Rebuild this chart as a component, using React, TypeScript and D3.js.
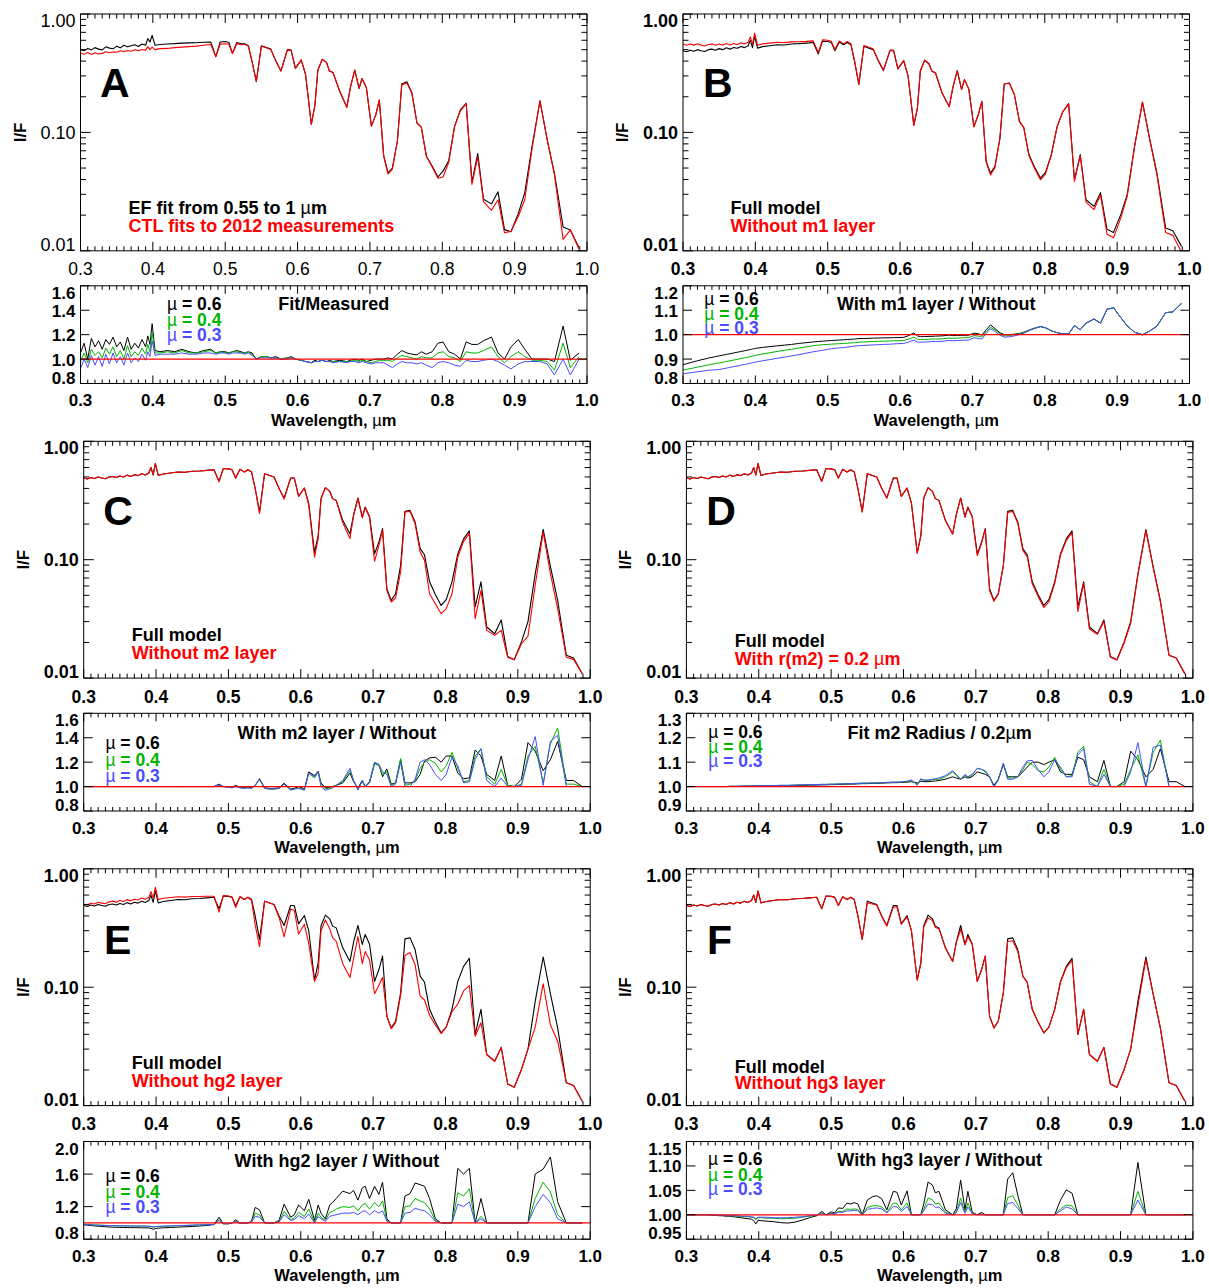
import React from 'react';
import * as d3 from 'd3';

// ---------------- DATA ----------------
const WL = [0.300,0.305,0.310,0.315,0.320,0.325,0.330,0.335,0.340,0.345,
 0.350,0.355,0.360,0.365,0.370,0.375,0.380,0.385,0.390,0.393,
 0.396,0.399,0.403,0.410,0.420,0.430,0.440,0.450,0.460,0.470,
 0.480,0.487,0.493,0.500,0.505,0.510,0.516,0.522,0.527,0.532,
 0.537,0.543,0.550,0.557,0.563,0.570,0.577,0.586,0.591,0.597,
 0.605,0.611,0.619,0.624,0.628,0.634,0.640,0.644,0.649,0.658,
 0.668,0.673,0.679,0.685,0.689,0.695,0.702,0.708,0.713,0.719,
 0.725,0.731,0.738,0.744,0.751,0.758,0.765,0.771,0.778,0.786,
 0.794,0.801,0.809,0.817,0.825,0.833,0.841,0.849,0.857,0.868,
 0.877,0.886,0.895,0.905,0.914,0.924,0.935,0.945,0.955,0.967,
 0.977,0.989];

// Full model (black curve in panels B-F)
const FULL = [0.490,0.480,0.495,0.485,0.500,0.490,0.482,0.500,0.505,0.495,
 0.510,0.500,0.518,0.505,0.522,0.513,0.532,0.520,0.540,0.600,
 0.520,0.650,0.515,0.530,0.540,0.550,0.548,0.558,0.562,0.568,
 0.575,0.460,0.590,0.585,0.575,0.490,0.580,0.550,0.575,0.550,
 0.400,0.253,0.533,0.515,0.500,0.400,0.332,0.490,0.490,0.343,
 0.403,0.300,0.115,0.160,0.330,0.406,0.378,0.328,0.317,0.215,
 0.165,0.240,0.332,0.230,0.279,0.232,0.112,0.141,0.183,0.0569,
 0.0453,0.0515,0.0894,0.256,0.261,0.208,0.124,0.110,0.065,0.0508,
 0.0411,0.046,0.065,0.112,0.150,0.175,0.0399,0.065,0.027,0.0237,
 0.031,0.0152,0.0143,0.0202,0.030,0.076,0.180,0.088,0.0453,0.0156,
 0.0148,0.0109];

// Panel A: EF fit (black) and CTL fits (red)
const A_BLACK = [0.500,0.490,0.512,0.498,0.520,0.505,0.498,0.528,0.515,0.508,
 0.535,0.518,0.545,0.528,0.540,0.550,0.532,0.558,0.545,0.620,
 0.580,0.660,0.545,0.552,0.558,0.562,0.568,0.570,0.572,0.578,
 0.580,0.436,0.580,0.585,0.575,0.465,0.575,0.560,0.560,0.540,
 0.400,0.268,0.540,0.520,0.505,0.400,0.330,0.500,0.495,0.347,
 0.410,0.310,0.117,0.170,0.335,0.414,0.390,0.330,0.320,0.225,
 0.163,0.240,0.336,0.235,0.285,0.240,0.113,0.140,0.188,0.064,
 0.0455,0.050,0.085,0.256,0.268,0.216,0.120,0.111,0.063,0.052,
 0.042,0.047,0.058,0.113,0.155,0.176,0.038,0.0664,0.0272,0.0249,
 0.0315,0.0151,0.0145,0.0206,0.031,0.076,0.185,0.0866,0.045,0.0159,
 0.0150,0.0106];
const A_RED = [0.470,0.458,0.472,0.455,0.470,0.460,0.465,0.480,0.470,0.478,
 0.475,0.490,0.480,0.492,0.485,0.500,0.490,0.502,0.495,0.530,
 0.500,0.525,0.500,0.510,0.512,0.520,0.525,0.530,0.535,0.545,
 0.552,0.436,0.557,0.560,0.555,0.462,0.562,0.550,0.555,0.535,
 0.398,0.268,0.535,0.518,0.502,0.400,0.330,0.498,0.495,0.347,
 0.410,0.310,0.117,0.170,0.335,0.414,0.390,0.330,0.320,0.225,
 0.163,0.240,0.336,0.235,0.285,0.240,0.113,0.140,0.188,0.063,
 0.0445,0.049,0.085,0.252,0.262,0.213,0.120,0.111,0.063,0.051,
 0.041,0.042,0.056,0.112,0.152,0.175,0.0364,0.062,0.026,0.022,
 0.027,0.0142,0.0146,0.0195,0.027,0.072,0.185,0.0866,0.044,0.0125,
 0.0150,0.0103];

const RED_B = [0.559,0.545,0.559,0.546,0.560,0.546,0.536,0.553,0.557,0.544,
 0.559,0.546,0.564,0.548,0.564,0.553,0.571,0.557,0.576,0.639,
 0.553,0.689,0.545,0.559,0.568,0.577,0.573,0.581,0.583,0.587,
 0.593,0.473,0.606,0.600,0.589,0.502,0.593,0.562,0.587,0.561,
 0.407,0.257,0.542,0.523,0.507,0.406,0.336,0.496,0.496,0.347,
 0.407,0.302,0.114,0.161,0.333,0.409,0.381,0.330,0.319,0.216,
 0.165,0.241,0.333,0.231,0.280,0.232,0.111,0.140,0.183,0.0558,
 0.0436,0.0502,0.0887,0.256,0.261,0.208,0.123,0.109,0.0639,0.0495,
 0.0398,0.0447,0.064,0.111,0.150,0.174,0.0385,0.0637,0.0258,0.0223,
 0.0296,0.0138,0.0129,0.0189,0.029,0.0752,0.180,0.0867,0.0438,0.0143,
 0.0135,0.0097];

const RED_C = [0.490,0.480,0.495,0.485,0.500,0.490,0.482,0.500,0.505,0.495,
 0.510,0.500,0.518,0.505,0.522,0.513,0.532,0.520,0.540,0.600,
 0.520,0.650,0.515,0.530,0.540,0.550,0.548,0.558,0.562,0.568,
 0.575,0.455,0.590,0.585,0.575,0.488,0.580,0.550,0.575,0.550,
 0.398,0.245,0.533,0.515,0.500,0.400,0.325,0.490,0.490,0.343,
 0.403,0.290,0.105,0.150,0.325,0.406,0.378,0.328,0.315,0.205,
 0.151,0.235,0.330,0.225,0.275,0.228,0.0968,0.132,0.177,0.055,
 0.0439,0.0474,0.0787,0.253,0.256,0.201,0.116,0.0987,0.0516,0.0425,
 0.035,0.0386,0.0516,0.105,0.143,0.166,0.0317,0.055,0.0253,0.023,
 0.0253,0.015,0.0143,0.0195,0.0226,0.0607,0.171,0.0762,0.0386,0.015,
 0.0144,0.0109];

const RED_D = [0.490,0.480,0.495,0.485,0.500,0.490,0.482,0.500,0.505,0.495,
 0.510,0.500,0.518,0.505,0.522,0.513,0.532,0.520,0.540,0.600,
 0.520,0.650,0.515,0.530,0.540,0.550,0.548,0.558,0.562,0.568,
 0.575,0.460,0.590,0.585,0.575,0.490,0.580,0.550,0.575,0.550,
 0.400,0.253,0.533,0.515,0.500,0.400,0.332,0.490,0.490,0.343,
 0.403,0.300,0.113,0.160,0.330,0.406,0.378,0.328,0.317,0.213,
 0.165,0.240,0.330,0.229,0.276,0.230,0.108,0.138,0.181,0.055,
 0.0445,0.051,0.088,0.250,0.255,0.203,0.120,0.106,0.0625,0.049,
 0.0395,0.044,0.063,0.109,0.145,0.170,0.0365,0.063,0.026,0.0235,
 0.030,0.015,0.0142,0.0198,0.029,0.074,0.176,0.086,0.044,0.0156,
 0.0148,0.0108];

const RED_E = [0.502,0.494,0.511,0.504,0.521,0.513,0.506,0.526,0.533,0.523,
 0.540,0.530,0.549,0.536,0.554,0.545,0.566,0.553,0.576,0.642,
 0.565,0.699,0.550,0.564,0.572,0.580,0.576,0.584,0.584,0.587,
 0.587,0.430,0.596,0.590,0.578,0.471,0.583,0.550,0.575,0.539,
 0.336,0.220,0.533,0.515,0.500,0.388,0.266,0.458,0.445,0.281,
 0.340,0.233,0.112,0.131,0.300,0.370,0.311,0.262,0.244,0.158,
 0.121,0.175,0.268,0.158,0.200,0.170,0.088,0.104,0.121,0.057,
 0.0446,0.050,0.085,0.185,0.196,0.155,0.084,0.078,0.058,0.048,
 0.0406,0.046,0.062,0.072,0.093,0.103,0.0385,0.050,0.027,0.0237,
 0.031,0.0152,0.0143,0.0202,0.030,0.046,0.107,0.048,0.035,0.0156,
 0.0148,0.0109];

const RED_F = [0.490,0.480,0.495,0.485,0.500,0.490,0.482,0.500,0.505,0.495,
 0.510,0.500,0.518,0.505,0.522,0.513,0.532,0.520,0.540,0.600,
 0.520,0.650,0.515,0.530,0.540,0.550,0.548,0.558,0.562,0.568,
 0.575,0.460,0.590,0.585,0.575,0.490,0.580,0.550,0.575,0.550,
 0.400,0.253,0.515,0.505,0.495,0.395,0.328,0.475,0.478,0.340,
 0.393,0.300,0.115,0.160,0.322,0.385,0.365,0.320,0.312,0.213,
 0.165,0.237,0.310,0.228,0.268,0.230,0.112,0.141,0.183,0.0569,
 0.0453,0.0515,0.0894,0.243,0.247,0.200,0.124,0.110,0.065,0.0508,
 0.0411,0.046,0.065,0.110,0.146,0.168,0.0399,0.065,0.027,0.0237,
 0.031,0.0152,0.0143,0.0202,0.030,0.069,0.172,0.088,0.0453,0.0156,
 0.0148,0.0109];

// Ratio panels: mu = 0.6 (black), 0.4 (green), 0.3 (blue)
const RA6 = [1.05,1.13,1.00,1.17,1.10,1.15,1.08,1.16,1.12,1.18,
 1.10,1.14,1.07,1.18,1.08,1.13,1.09,1.16,1.10,1.19,
 1.12,1.29,1.07,1.06,1.07,1.06,1.08,1.06,1.05,1.07,
 1.08,1.05,1.06,1.06,1.05,1.06,1.07,1.06,1.05,1.06,
 1.05,1.00,1.02,1.02,1.01,1.02,1.00,1.01,1.02,1.00,
 0.99,0.98,0.97,0.99,0.98,0.99,0.98,0.99,0.98,0.99,
 0.98,0.99,1.00,0.99,1.00,0.98,0.99,1.00,1.00,1.00,
 1.01,1.00,1.04,1.07,1.05,1.04,1.035,1.06,1.04,1.06,
 1.13,1.14,1.06,1.04,1.00,1.14,1.12,1.12,1.15,1.18,
 1.05,1.00,1.10,1.16,1.08,1.00,1.00,1.00,0.98,1.27,
 0.99,1.05];
const RA4 = [0.98,1.05,0.97,1.08,1.03,1.06,1.01,1.09,1.04,1.10,
 1.02,1.07,1.00,1.11,1.02,1.06,1.03,1.09,1.04,1.12,
 1.06,1.22,1.05,1.05,1.06,1.05,1.07,1.05,1.05,1.06,
 1.07,1.05,1.06,1.05,1.05,1.06,1.06,1.05,1.05,1.06,
 1.04,1.00,1.02,1.02,1.01,1.01,1.00,1.01,1.01,1.00,
 0.99,0.98,0.97,0.98,0.98,0.99,0.98,0.98,0.98,0.98,
 0.98,0.98,0.99,0.98,0.99,0.98,0.97,0.98,0.99,0.99,
 0.99,0.98,1.01,1.03,1.02,1.01,1.00,1.02,1.01,1.01,
 1.05,1.06,1.02,1.01,0.98,1.06,1.05,1.05,1.07,1.10,
 1.02,0.97,1.02,1.06,1.02,0.99,0.99,0.98,0.91,1.13,
 0.93,1.02];
const RA3 = [0.92,1.00,0.93,1.03,0.95,1.02,0.94,1.04,0.96,1.05,
 0.97,1.02,0.95,1.05,0.97,1.01,0.98,1.04,0.99,1.06,
 1.02,1.15,1.03,1.04,1.04,1.04,1.05,1.04,1.04,1.05,
 1.05,1.04,1.05,1.05,1.04,1.05,1.05,1.05,1.04,1.05,
 1.03,1.00,1.01,1.01,1.01,1.01,1.00,1.00,1.01,1.00,
 0.99,0.98,0.97,0.98,0.98,0.99,0.98,0.98,0.97,0.98,
 0.97,0.98,0.98,0.97,0.98,0.97,0.96,0.97,0.97,0.97,
 0.95,0.93,0.96,0.98,0.97,0.97,0.96,0.97,0.95,0.93,
 0.97,0.98,0.97,0.95,0.94,0.99,0.98,0.98,0.99,1.00,
 0.98,0.95,0.92,0.96,0.98,0.98,0.98,0.96,0.87,1.00,
 0.87,1.00];

const RB6 = [0.877,0.881,0.885,0.889,0.893,0.897,0.900,0.904,0.907,0.910,
 0.913,0.916,0.919,0.922,0.925,0.928,0.931,0.934,0.937,0.939,
 0.941,0.943,0.945,0.948,0.951,0.954,0.957,0.960,0.964,0.967,
 0.970,0.972,0.973,0.975,0.976,0.977,0.978,0.979,0.980,0.981,
 0.982,0.984,0.984,0.985,0.986,0.986,0.987,0.987,0.988,0.988,
 0.989,0.995,1.007,0.995,0.992,0.992,0.993,0.993,0.994,0.995,
 0.998,0.996,0.997,0.997,0.997,0.998,1.006,1.004,0.998,1.020,
 1.040,1.025,1.008,1.000,1.000,1.002,1.005,1.010,1.018,1.027,
 1.033,1.028,1.016,1.008,1.003,1.003,1.037,1.020,1.047,1.064,
 1.047,1.104,1.110,1.070,1.036,1.010,1.000,1.015,1.035,1.090,
 1.093,1.127];
const RB4 = [0.855,0.858,0.861,0.864,0.867,0.870,0.873,0.876,0.879,0.882,
 0.884,0.887,0.890,0.893,0.896,0.899,0.902,0.905,0.908,0.910,
 0.912,0.914,0.917,0.921,0.926,0.931,0.936,0.940,0.945,0.950,
 0.955,0.957,0.959,0.960,0.961,0.962,0.963,0.964,0.965,0.966,
 0.967,0.969,0.970,0.971,0.972,0.973,0.973,0.974,0.975,0.975,
 0.976,0.981,0.990,0.981,0.980,0.980,0.981,0.982,0.982,0.983,
 0.986,0.985,0.986,0.987,0.987,0.988,0.996,0.994,0.991,1.012,
 1.030,1.020,1.004,0.995,0.996,1.000,1.003,1.008,1.017,1.026,
 1.033,1.028,1.016,1.008,1.003,1.003,1.037,1.020,1.047,1.064,
 1.047,1.104,1.110,1.070,1.036,1.010,0.998,1.015,1.035,1.090,
 1.093,1.127];
const RB3 = [0.840,0.842,0.844,0.846,0.848,0.850,0.852,0.854,0.855,0.856,
 0.857,0.860,0.863,0.866,0.869,0.872,0.875,0.878,0.881,0.883,
 0.885,0.887,0.889,0.893,0.898,0.903,0.908,0.913,0.918,0.924,
 0.930,0.933,0.936,0.940,0.942,0.944,0.946,0.947,0.949,0.951,
 0.953,0.955,0.956,0.957,0.958,0.959,0.960,0.961,0.962,0.963,
 0.964,0.969,0.978,0.970,0.969,0.970,0.971,0.972,0.972,0.973,
 0.976,0.975,0.976,0.977,0.977,0.978,0.987,0.985,0.982,1.005,
 1.024,1.013,0.998,0.990,0.991,0.995,1.000,1.006,1.016,1.025,
 1.033,1.028,1.016,1.008,1.003,1.003,1.037,1.020,1.047,1.064,
 1.047,1.104,1.110,1.070,1.036,1.010,1.000,1.015,1.035,1.090,
 1.093,1.130];

const RC6 = [1,1,1,1,1,1,1,1,1,1, 1,1,1,1,1,1,1,1,1,1, 1,1,1,1,1,1,1,1,1,1,
 1.00,1.02,1.00,1.00,0.995,1.01,0.995,0.99,0.995,0.99,
 1.01,1.065,0.99,0.985,0.985,0.99,1.027,0.98,0.985,1.00,
 0.98,1.12,1.09,1.125,1.03,0.99,0.995,1.00,1.01,1.03,
 1.11,1.04,0.99,1.05,1.00,1.03,1.19,1.18,1.08,1.145,
 1.02,1.03,1.22,1.03,1.03,1.04,1.10,1.21,1.235,1.24,
 1.20,1.25,1.25,1.11,1.065,1.07,1.30,1.25,1.10,1.05,
 1.25,1.01,1.00,1.06,1.36,1.29,1.13,1.22,1.37,1.05,
 1.05,1.00];
const RC4 = [1,1,1,1,1,1,1,1,1,1, 1,1,1,1,1,1,1,1,1,1, 1,1,1,1,1,1,1,1,1,1,
 1.00,1.01,1.00,0.995,0.99,1.00,0.99,0.99,0.99,0.985,
 1.01,1.06,0.985,0.98,0.98,0.985,1.02,0.975,0.98,0.99,
 0.975,1.11,1.07,1.12,1.02,0.98,0.99,1.00,1.01,1.04,
 1.13,1.05,0.98,1.04,1.00,1.04,1.19,1.17,1.10,1.12,
 1.01,1.03,1.23,1.01,1.02,1.05,1.15,1.20,1.22,1.19,
 1.12,1.17,1.28,1.15,1.04,1.05,1.25,1.31,1.08,1.02,
 1.14,1.01,1.00,1.02,1.25,1.33,1.03,1.35,1.48,1.02,
 1.02,1.00];
const RC3 = [1,1,1,1,1,1,1,1,1,1, 1,1,1,1,1,1,1,1,1,1, 1,1,1,1,1,1,1,1,1,1,
 1.00,1.015,1.00,0.995,0.99,1.00,0.99,0.985,0.99,0.985,
 1.01,1.06,0.985,0.98,0.98,0.985,1.02,0.97,0.98,0.985,
 0.97,1.11,1.08,1.12,1.00,0.97,0.98,0.99,1.01,1.05,
 1.15,1.05,0.97,1.05,1.00,1.04,1.20,1.18,1.12,1.10,
 1.00,1.02,1.20,1.00,1.00,1.06,1.20,1.22,1.18,1.10,
 1.05,1.10,1.24,1.17,1.03,1.04,1.22,1.31,1.05,1.00,
 1.07,1.00,1.00,1.01,1.22,1.41,1.01,1.37,1.42,1.00,
 1.00,1.00];

const RD6 = [1.0,1.0,1.0,1.0,1.0,1.0,1.0,1.0,1.0,1.0,
 1.0,1.0,1.001,1.001,1.001,1.001,1.002,1.002,1.002,1.002,
 1.002,1.002,1.002,1.003,1.003,1.004,1.004,1.005,1.005,1.006,
 1.006,1.007,1.007,1.008,1.008,1.009,1.009,1.010,1.010,1.010,
 1.011,1.012,1.012,1.013,1.013,1.014,1.015,1.016,1.016,1.017,
 1.018,1.020,1.015,1.022,1.020,1.020,1.022,1.023,1.025,1.030,
 1.040,1.035,1.030,1.040,1.035,1.040,1.060,1.055,1.050,1.040,
 1.005,1.030,1.090,1.040,1.040,1.040,1.060,1.080,1.100,1.100,
 1.090,1.100,1.110,1.060,1.050,1.050,1.120,1.110,1.040,1.020,
 1.107,1.000,1.000,1.020,1.145,1.110,1.040,1.070,1.155,1.020,
 1.020,1.000];
const RD4 = [1.0,1.0,1.0,1.0,1.0,1.0,1.0,1.0,1.0,1.0,
 1.0,1.0,1.001,1.001,1.001,1.002,1.002,1.002,1.003,1.003,
 1.003,1.003,1.003,1.004,1.004,1.005,1.005,1.006,1.007,1.008,
 1.008,1.009,1.009,1.010,1.010,1.011,1.011,1.012,1.012,1.013,
 1.013,1.014,1.014,1.015,1.015,1.016,1.017,1.018,1.018,1.019,
 1.020,1.025,1.010,1.030,1.025,1.025,1.028,1.030,1.030,1.040,
 1.060,1.045,1.030,1.045,1.040,1.045,1.075,1.070,1.060,1.040,
 1.000,1.030,1.095,1.035,1.035,1.040,1.070,1.100,1.090,1.065,
 1.060,1.080,1.120,1.070,1.040,1.045,1.140,1.165,1.020,1.000,
 1.070,1.000,1.000,1.010,1.070,1.130,1.000,1.140,1.190,1.000,
 1.000,1.000];
const RD3 = [1.0,1.0,1.0,1.0,1.0,1.0,1.0,1.0,1.0,1.0,
 1.0,1.0,1.001,1.001,1.001,1.002,1.002,1.002,1.003,1.003,
 1.003,1.003,1.003,1.004,1.004,1.005,1.005,1.006,1.007,1.008,
 1.008,1.009,1.009,1.010,1.010,1.011,1.011,1.012,1.012,1.013,
 1.013,1.014,1.014,1.015,1.015,1.016,1.017,1.018,1.018,1.019,
 1.022,1.027,1.005,1.032,1.027,1.027,1.030,1.032,1.035,1.045,
 1.065,1.050,1.030,1.050,1.040,1.050,1.075,1.070,1.065,1.040,
 1.000,1.025,1.095,1.030,1.030,1.040,1.080,1.105,1.107,1.070,
 1.040,1.060,1.110,1.080,1.040,1.040,1.130,1.155,1.010,1.000,
 1.050,1.000,1.000,1.000,1.060,1.180,1.000,1.160,1.170,1.000,
 1.000,1.000];

const RE6 = [0.977,0.972,0.968,0.963,0.960,0.956,0.953,0.950,0.948,0.946,
 0.945,0.944,0.943,0.942,0.942,0.941,0.940,0.940,0.938,0.935,
 0.920,0.930,0.936,0.940,0.944,0.948,0.952,0.956,0.962,0.968,
 0.980,1.07,0.99,0.99,0.995,1.04,0.995,1.00,1.00,1.02,
 1.19,1.16,1.00,1.00,1.00,1.03,1.23,1.07,1.10,1.22,
 1.15,1.29,1.03,1.22,1.12,1.05,1.22,1.25,1.30,1.39,
 1.36,1.40,1.28,1.43,1.45,1.30,1.45,1.35,1.50,1.05,
 1.00,1.00,1.00,1.33,1.36,1.49,1.47,1.45,1.30,1.05,
 1.00,1.00,1.00,1.67,1.60,1.67,1.00,1.30,1.00,1.00,
 1.00,1.00,1.00,1.00,1.00,1.60,1.66,1.81,1.26,1.00,
 1.00,1.00];
const RE4 = [0.985,0.982,0.979,0.976,0.974,0.972,0.970,0.968,0.966,0.965,
 0.964,0.963,0.962,0.962,0.961,0.961,0.960,0.960,0.958,0.955,
 0.945,0.952,0.956,0.959,0.962,0.965,0.968,0.971,0.975,0.978,
 0.982,1.04,0.99,0.99,1.00,1.025,0.995,1.00,1.00,1.015,
 1.12,1.10,1.00,1.00,1.00,1.02,1.14,1.04,1.06,1.13,
 1.08,1.17,1.01,1.12,1.07,1.03,1.13,1.14,1.17,1.20,
 1.19,1.21,1.15,1.22,1.24,1.17,1.25,1.20,1.27,1.03,
 1.00,1.00,1.00,1.20,1.21,1.30,1.27,1.25,1.17,1.03,
 1.00,1.00,1.00,1.37,1.33,1.42,1.00,1.08,1.00,1.00,
 1.00,1.00,1.00,1.00,1.00,1.30,1.50,1.38,1.10,1.00,
 1.00,1.00];
const RE3 = [0.980,0.978,0.975,0.973,0.971,0.970,0.968,0.967,0.966,0.965,
 0.964,0.964,0.963,0.963,0.962,0.962,0.962,0.961,0.960,0.958,
 0.950,0.955,0.958,0.961,0.964,0.967,0.970,0.973,0.976,0.979,
 0.982,1.03,0.99,0.99,1.00,1.02,0.995,1.00,1.00,1.01,
 1.08,1.07,1.00,1.00,1.00,1.01,1.10,1.03,1.04,1.09,
 1.05,1.11,1.00,1.08,1.05,1.02,1.08,1.09,1.10,1.12,
 1.12,1.13,1.10,1.14,1.15,1.10,1.15,1.12,1.15,1.02,
 1.00,1.00,1.00,1.12,1.13,1.18,1.16,1.15,1.10,1.02,
 1.00,1.00,1.00,1.23,1.20,1.26,1.00,1.05,1.00,1.00,
 1.00,1.00,1.00,1.00,1.00,1.20,1.35,1.25,1.05,1.00,
 1.00,1.00];

const RF6 = [1.0,1.0,1.0,1.0,1.0,1.0,1.0,0.999,0.999,0.998,
 0.998,0.997,0.997,0.996,0.995,0.994,0.993,0.992,0.991,0.988,
 0.981,0.989,0.988,0.987,0.986,0.984,0.983,0.985,0.989,0.994,
 0.998,1.007,1.000,1.006,1.004,1.014,1.013,1.024,1.022,1.025,
 1.022,1.000,1.030,1.037,1.039,1.033,1.010,1.048,1.046,1.020,
 1.049,1.000,1.000,1.000,1.022,1.067,1.061,1.045,1.048,1.010,
 1.000,1.012,1.071,1.010,1.048,1.005,1.000,1.005,1.000,1.000,
 1.000,1.000,1.000,1.073,1.086,1.040,1.000,1.000,1.000,1.000,
 1.000,1.000,1.000,1.030,1.051,1.044,1.000,1.000,1.000,1.000,
 1.000,1.000,1.000,1.000,1.000,1.107,1.000,1.000,1.000,1.000,
 1.000,1.000];
const RF4 = [1.0,1.0,1.0,1.0,1.0,1.0,1.0,1.0,0.999,0.999,
 0.999,0.998,0.998,0.998,0.997,0.997,0.996,0.996,0.995,0.994,
 0.990,0.994,0.994,0.993,0.993,0.992,0.992,0.993,0.995,0.997,
 0.999,1.004,1.000,1.003,1.002,1.007,1.007,1.012,1.011,1.012,
 1.011,1.000,1.015,1.018,1.019,1.016,1.005,1.024,1.023,1.010,
 1.024,1.000,1.000,1.000,1.011,1.034,1.031,1.022,1.024,1.005,
 1.000,1.006,1.034,1.005,1.024,1.003,1.000,1.002,1.000,1.000,
 1.000,1.000,1.000,1.035,1.039,1.020,1.000,1.000,1.000,1.000,
 1.000,1.000,1.000,1.012,1.020,1.018,1.000,1.000,1.000,1.000,
 1.000,1.000,1.000,1.000,1.000,1.048,1.000,1.000,1.000,1.000,
 1.000,1.000];
const RF3 = [1.0,1.0,1.0,1.0,1.0,1.0,1.0,1.0,0.999,0.999,
 0.999,0.999,0.998,0.998,0.998,0.997,0.997,0.997,0.996,0.995,
 0.992,0.995,0.995,0.995,0.994,0.994,0.994,0.995,0.996,0.998,
 0.999,1.003,1.000,1.002,1.002,1.005,1.005,1.008,1.008,1.009,
 1.008,1.000,1.011,1.013,1.014,1.012,1.004,1.017,1.016,1.007,
 1.017,1.000,1.000,1.000,1.008,1.022,1.021,1.015,1.016,1.003,
 1.000,1.004,1.025,1.003,1.016,1.002,1.000,1.000,1.000,1.000,
 1.000,1.000,1.000,1.023,1.025,1.013,1.000,1.000,1.000,1.000,
 1.000,1.000,1.000,1.008,1.016,1.012,1.000,1.000,1.000,1.000,
 1.000,1.000,1.000,1.000,1.000,1.030,1.000,1.000,1.000,1.000,
 1.000,1.000];

const X_TICKS = [0.3, 0.4, 0.5, 0.6, 0.7, 0.8, 0.9, 1.0];
const LOG_TICKS = [0.01, 0.1, 1];
const TICKS_A = [0.8, 1.0, 1.2, 1.4, 1.6];
const TICKS_B = [0.8, 0.9, 1.0, 1.1, 1.2];
const TICKS_C = [0.8, 1.0, 1.2, 1.4, 1.6];
const TICKS_D = [0.9, 1.0, 1.1, 1.2, 1.3];
const TICKS_E = [0.8, 1.2, 1.6, 2.0];
const TICKS_F = [0.95, 1.0, 1.05, 1.1, 1.15];
const MU_LABELS = ['µ = 0.6', 'µ = 0.4', 'µ = 0.3'];

// ---------------- STYLE / LAYOUT ----------------
const FONT = '"Liberation Sans", Arial, Helvetica, sans-serif';
const RED = '#ff0000';
const GREEN = '#00b400';
const BLUE = '#4c4cff';
const W = 506.5;
const MH = 236.8;
const RH = 97.7;

type Panel = {
  letter: string; left: number; mainTop: number; ratioTop: number;
  black: number[]; red: number[]; leg1: string; leg2: string;
  legX: number; legY: [number, number]; letterPos: [number, number];
  regularMain: boolean;
  r6: number[]; r4: number[]; r3: number[];
  rDomain: [number, number]; rTicks: number[]; rFmt: string;
  rTitle: string; rTitleY: number; muX: number; muY: number[];
};

const PANELS: Panel[] = [
  { letter: 'A', left: 80.5, mainTop: 14, ratioTop: 285.8, black: A_BLACK, red: A_RED,
    leg1: 'EF fit from 0.55 to 1 µm', leg2: 'CTL fits to 2012 measurements', legX: 128.5, legY: [214.3, 231.7],
    letterPos: [100, 97], regularMain: true, r6: RA6, r4: RA4, r3: RA3, rDomain: [0.8, 1.6], rTicks: TICKS_A, rFmt: '.1f',
    rTitle: 'Fit/Measured', rTitleY: 310, muX: 167, muY: [310, 325.7, 340.7] },
  { letter: 'B', left: 683, mainTop: 14, ratioTop: 285.8, black: FULL, red: RED_B,
    leg1: 'Full model', leg2: 'Without m1 layer', legX: 730.4, legY: [214.3, 231.7],
    letterPos: [703, 97], regularMain: false, r6: RB6, r4: RB4, r3: RB3, rDomain: [0.8, 1.2], rTicks: TICKS_B, rFmt: '.1f',
    rTitle: 'With m1 layer / Without', rTitleY: 310, muX: 704.3, muY: [305, 320, 334] },
  { letter: 'C', left: 83.7, mainTop: 441.3, ratioTop: 713.3, black: FULL, red: RED_C,
    leg1: 'Full model', leg2: 'Without m2 layer', legX: 131.7, legY: [640.7, 659],
    letterPos: [103.3, 525], regularMain: false, r6: RC6, r4: RC4, r3: RC3, rDomain: [0.8, 1.6], rTicks: TICKS_C, rFmt: '.1f',
    rTitle: 'With m2 layer / Without', rTitleY: 739.3, muX: 105.4, muY: [749.3, 766, 782.3] },
  { letter: 'D', left: 686.4, mainTop: 441.3, ratioTop: 713.3, black: FULL, red: RED_D,
    leg1: 'Full model', leg2: 'With r(m2) = 0.2 µm', legX: 734.7, legY: [646.7, 665],
    letterPos: [706.3, 525], regularMain: false, r6: RD6, r4: RD4, r3: RD3, rDomain: [0.9, 1.3], rTicks: TICKS_D, rFmt: '.1f',
    rTitle: 'Fit m2 Radius / 0.2µm', rTitleY: 739.3, muX: 708.2, muY: [738.3, 752.7, 766.7] },
  { letter: 'E', left: 83.7, mainTop: 868.8, ratioTop: 1141.5, black: FULL, red: RED_E,
    leg1: 'Full model', leg2: 'Without hg2 layer', legX: 131.7, legY: [1068.7, 1087],
    letterPos: [104, 953.7], regularMain: false, r6: RE6, r4: RE4, r3: RE3, rDomain: [0.8, 2.0], rTicks: TICKS_E, rFmt: '.1f',
    rTitle: 'With hg2 layer / Without', rTitleY: 1166.7, muX: 105.4, muY: [1181.7, 1198.3, 1213.3] },
  { letter: 'F', left: 686.4, mainTop: 868.8, ratioTop: 1141.5, black: FULL, red: RED_F,
    leg1: 'Full model', leg2: 'Without hg3 layer', legX: 734.7, legY: [1072.7, 1088.7],
    letterPos: [707, 953.7], regularMain: false, r6: RF6, r4: RF4, r3: RF3, rDomain: [0.95, 1.15], rTicks: TICKS_F, rFmt: '.2f',
    rTitle: 'With hg3 layer / Without', rTitleY: 1166, muX: 708, muY: [1165, 1180.7, 1195] },
];

function Rich({ x, y, text, size, fill = '#000', anchor = 'start', weight = 700 }:
  { x: number; y: number; text: string; size: number; fill?: string; anchor?: string; weight?: number }) {
  const parts = text.split('µ');
  return (
    <text x={x} y={y} fontSize={size} fill={fill} textAnchor={anchor as any} fontWeight={weight}>
      {parts.map((p, i) => (
        <React.Fragment key={i}>
          {i > 0 && <tspan fontWeight={400}>µ</tspan>}
          {p}
        </React.Fragment>
      ))}
    </text>
  );
}

const MINOR_X = d3.range(31, 100).map((k) => k / 100).filter((v) => Math.round(v * 100) % 10 !== 0);

function PanelView({ p }: { p: Panel }) {
  const L = p.left, R = p.left + W;
  const T = p.mainTop, B = p.mainTop + MH;
  const RT = p.ratioTop, RB = p.ratioTop + RH;
  const x = d3.scaleLinear().domain([0.3, 1.0]).range([L, R]);
  const y = d3.scaleLog().domain([0.01, 1]).range([B, T]);
  const yr = d3.scaleLinear().domain(p.rDomain).range([RB, RT]);
  const mainLine = d3.line<number>().x((_, i) => x(WL[i])).y((v) => y(v));
  const ratioLine = d3.line<number>().x((_, i) => x(WL[i])).y((v) => yr(v));
  const fmt2 = d3.format('.2f');
  const rfmt = d3.format(p.rFmt);

  // main ticks
  let mt = '';
  X_TICKS.forEach((v) => { const xx = x(v); mt += `M${xx},${B}v-9M${xx},${T}v9`; });
  MINOR_X.forEach((v) => { const xx = x(v); mt += `M${xx},${B}v-4.5M${xx},${T}v4.5`; });
  LOG_TICKS.forEach((v) => { const yy = y(v); mt += `M${L},${yy}h10M${R},${yy}h-10`; });
  [0.01, 0.1].forEach((dec) => {
    for (let k = 2; k <= 9; k++) { const yy = y(dec * k); mt += `M${L},${yy}h5.5M${R},${yy}h-5.5`; }
  });
  // ratio ticks
  let rt = '';
  X_TICKS.forEach((v) => { const xx = x(v); rt += `M${xx},${RB}v-8M${xx},${RT}v8`; });
  MINOR_X.forEach((v) => { const xx = x(v); rt += `M${xx},${RB}v-4M${xx},${RT}v4`; });
  p.rTicks.forEach((v) => { const yy = yr(v); rt += `M${L},${yy}h9M${R},${yy}h-9`; });

  const clamp = (v: number, lo: number, hi: number) => Math.max(lo, Math.min(hi, v));
  const mainW = p.regularMain ? 400 : 700;
  const cid = `clip${p.letter}`;
  const rcid = `rclip${p.letter}`;
  const cx = (L + R) / 2;

  return (
    <g>
      <defs>
        <clipPath id={cid}><rect x={L} y={T} width={W} height={MH} /></clipPath>
        <clipPath id={rcid}><rect x={L} y={RT} width={W} height={RH} /></clipPath>
      </defs>
      {/* ---------- main panel ---------- */}
      <g clipPath={`url(#${cid})`} fill="none" strokeLinejoin="round">
        <path d={mainLine(p.black) || ''} stroke="#000" strokeWidth={1.1} />
        <path d={mainLine(p.red) || ''} stroke={RED} strokeWidth={1.1} />
      </g>
      <rect x={L} y={T} width={W} height={MH} fill="none" stroke="#000" strokeWidth={1} />
      <path d={mt} stroke="#000" strokeWidth={1} fill="none" />
      {LOG_TICKS.map((v) => (
        <text key={v} x={L - 5} y={clamp(y(v), T + 6.5, B - 6.5) + 6.5} fontSize={18} fontWeight={mainW} textAnchor="end">{fmt2(v)}</text>
      ))}
      {X_TICKS.map((v) => (
        <text key={v} x={x(v)} y={B + 24.5} fontSize={17.5} fontWeight={mainW} textAnchor="middle">{v.toFixed(1)}</text>
      ))}
      <text transform={`translate(${L - 55},${(T + B) / 2}) rotate(-90)`} fontSize={17} fontWeight={700} textAnchor="middle">I/F</text>
      <text x={p.letterPos[0]} y={p.letterPos[1]} fontSize={41} fontWeight={700}>{p.letter}</text>
      <Rich x={p.legX} y={p.legY[0]} text={p.leg1} size={18} />
      <Rich x={p.legX} y={p.legY[1]} text={p.leg2} size={18} fill={RED} />

      {/* ---------- ratio panel ---------- */}
      <g clipPath={`url(#${rcid})`} fill="none" strokeLinejoin="round">
        <path d={ratioLine(p.r6) || ''} stroke="#000" strokeWidth={1} />
        <path d={ratioLine(p.r4) || ''} stroke={GREEN} strokeWidth={1} />
        <path d={ratioLine(p.r3) || ''} stroke={BLUE} strokeWidth={1} />
        <line x1={L} x2={R} y1={yr(1)} y2={yr(1)} stroke={RED} strokeWidth={1.3} />
      </g>
      <rect x={L} y={RT} width={W} height={RH} fill="none" stroke="#000" strokeWidth={1} />
      <path d={rt} stroke="#000" strokeWidth={1} fill="none" />
      {p.rTicks.map((v) => (
        <text key={v} x={L - 5} y={clamp(yr(v), RT + 6.5, RB - 6.5) + 6.5} fontSize={17} fontWeight={700} textAnchor="end">{rfmt(v)}</text>
      ))}
      {X_TICKS.map((v) => (
        <text key={v} x={x(v)} y={RB + 22.5} fontSize={17} fontWeight={700} textAnchor="middle">{v.toFixed(1)}</text>
      ))}
      <Rich x={cx} y={RB + 42} text="Wavelength, µm" size={16.5} anchor="middle" />
      <Rich x={cx} y={p.rTitleY} text={p.rTitle} size={18} anchor="middle" />
      {MU_LABELS.map((t, i) => (
        <Rich key={t} x={p.muX} y={p.muY[i]} text={t} size={17.5} fill={[ '#000', GREEN, BLUE ][i]} />
      ))}
    </g>
  );
}

export default function App() {
  return (
    <svg width={1209} height={1288} style={{ position: 'absolute', left: 0, top: 0, display: 'block' }} fontFamily={FONT}>
      <rect x={0} y={0} width={1209} height={1288} fill="#fff" />
      {PANELS.map((p) => <PanelView key={p.letter} p={p} />)}
    </svg>
  );
}
